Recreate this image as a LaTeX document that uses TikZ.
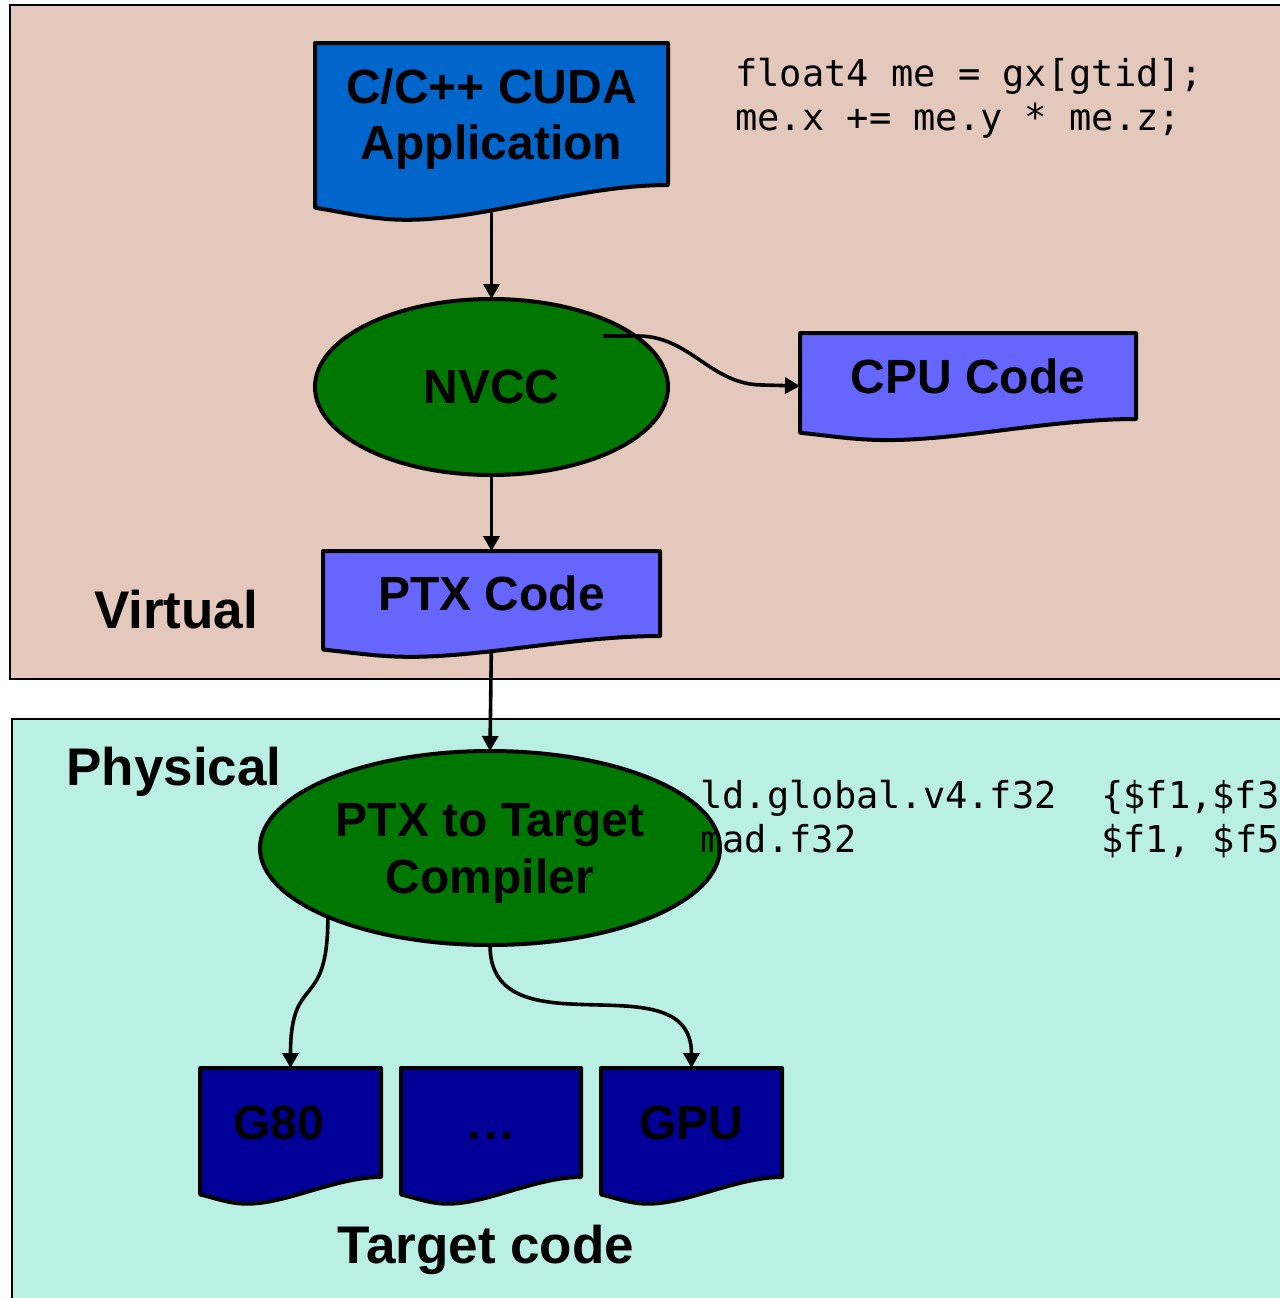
\documentclass[tikz,border=0pt]{standalone}
\usepackage{fontspec}
\setmainfont{Liberation Sans}
\newfontfamily\codefont{DejaVu Sans Mono}
\usetikzlibrary{calc,positioning,arrows.meta,shapes.geometric}
\pgfdeclarelayer{background}
\pgfsetlayers{background,main}

\definecolor{virtualbg}{HTML}{E3C8BB}
\definecolor{physicalbg}{HTML}{BAF0E3}
\definecolor{appblue}{HTML}{0066CC}
\definecolor{codeblue}{HTML}{6666FF}
\definecolor{nvgreen}{HTML}{007700}
\definecolor{targetblue}{HTML}{000099}

\newcommand{\padto}[2]{\makebox[#1\fontcharwd\font`0][l]{#2}}
\newcommand{\topstrut}{\rule{0pt}{0.93em}}

% document box: name, left, top, width, height, fill, text
\newcommand{\docnode}[7]{%
  \filldraw[docline, fill=#6] (#2,#3) -- ++(#4,0) -- ++(0,#5)
    .. controls +(-0.25*#4,0) and +(0.22*#4,0) .. ++(-0.74*#4,0.245*#5)
    .. controls +(-0.1*#4,0) and +(0.08*#4,0.03*#5) .. ++(-0.26*#4,-0.085*#5) -- cycle;
  \node[doctext, minimum width=#4*0.5pt, minimum height=#5*0.5pt] (#1) at (#2+#4/2,#3+#5/2) {#7};
}

\begin{document}
\begin{tikzpicture}[x=0.5pt, y=-0.5pt,
    panelline/.style={draw=black, line width=1pt},
    docline/.style={draw=black, line width=2pt, line join=round},
    doctext/.style={inner sep=0pt, outer sep=0pt, align=center,
      font=\bfseries\fontsize{24}{28}\selectfont},
    compiler/.style={ellipse, draw=black, line width=2pt, fill=nvgreen,
      inner sep=0pt, outer sep=0pt, align=center,
      font=\bfseries\fontsize{24}{28.5}\selectfont},
    panellabel/.style={inner sep=0pt, font=\bfseries\fontsize{26.5}{30}\selectfont},
    codetext/.style={anchor=north west, inner sep=0pt, align=left,
      font=\codefont\fontsize{18.5}{22}\selectfont},
    flow/.style={-{Triangle[length=7.5pt,width=8pt]}, line width=1.8pt}
  ]
  \useasboundingbox (0,0) rectangle (1280,1298);
  \begin{pgfonlayer}{background}
    \fill[virtualbg] (10,5) rectangle (1280,679);
    \draw[panelline] (1280,5) -| (10,679) -- (1280,679);
    \fill[physicalbg] (12,719) rectangle (1280,1298);
    \draw[panelline] (1280,719) -| (12,1298);
  \end{pgfonlayer}

  % virtual
  \docnode{app}{315}{43}{353}{142}{appblue}{\topstrut C/C++ CUDA\\Application}
  \node[compiler, minimum width=176.5pt, minimum height=88pt] (nvcc) at (491.5,387) {NVCC};
  \docnode{cpu}{800}{333}{336}{86}{codeblue}{CPU Code}
  \docnode{ptx}{323}{551}{337}{85}{codeblue}{PTX Code}
  \node[panellabel] (virtual) at (176,610) {Virtual};
  \node[codetext] (hlcode) at (735,58) {float4 me = gx[gtid];\\me.x += me.y * me.z;};

  % physical
  \node[compiler, minimum width=230pt, minimum height=97pt] (ptc) at (490,848) {\topstrut PTX to Target\\Compiler};
  \node[panellabel] (physical) at (174,772) {Physical};
  \node[codetext] (ptxcode) at (700,780) {\padto{18}{ld.global.v4.f32}\{\$f1,\$f3\\\padto{18}{mad.f32}\$f1, \$f5};
  \docnode{g80}{200}{1068}{181}{109}{targetblue}{G80\hspace*{12pt}}
  \docnode{dots}{401}{1068}{180}{109}{targetblue}{\vphantom{G}.\kern1.5pt.\kern1.5pt.}
  \docnode{gpu}{601}{1068}{181}{109}{targetblue}{GPU}
  \node[panellabel] (target) at (486,1250) {Target code};

  % connectors
  \begin{pgfonlayer}{background}
    \draw[flow] (app.south) -- (nvcc.north);
    \draw[flow] (ptx.south) -- (ptc.north);
  \end{pgfonlayer}
  \coordinate (nvccout) at ($(nvcc.center)+(111.5,-51)$);
  \draw[flow] (nvccout) -- ++(35,0) to[out=0,in=180] ++(125,49) -- ($(cpu.west)+(0,10)$);
  \draw[flow] (nvcc.south) -- (ptx.north);
  \draw[flow] (ptc.203) to[out=-90,in=90,looseness=1.6] (g80.north);
  \draw[flow] (ptc.south) to[out=-90,in=90,looseness=1.2] (gpu.north);
\end{tikzpicture}
\end{document}
